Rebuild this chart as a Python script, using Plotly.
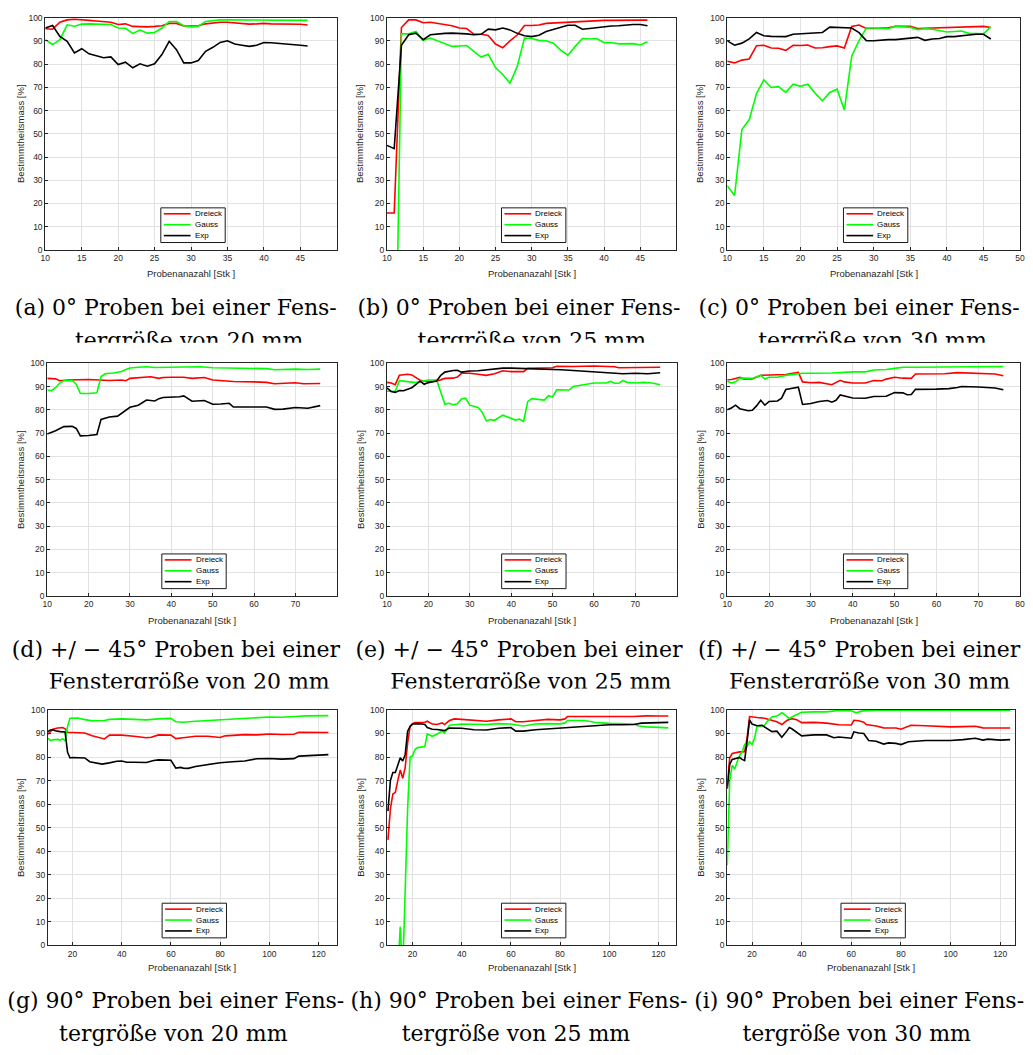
import plotly.graph_objects as go

# ---------------------------------------------------------------------------
# Bestimmtheitsmass [%] over Probenanzahl for three window functions
# (Dreieck, Gauss, Exp) at 0°, +/-45° and 90° samples, window 20/25/30 mm.
# ---------------------------------------------------------------------------

# Row 1: 0° samples, one value per sample count 10..46
ROW1_X = list(range(10, 47))

A_DREIECK = [95.2, 95.0, 98.0, 99.0, 99.3, 99.2, 98.8, 98.5, 98.2, 98.0,
             97.0, 97.3, 96.2, 96.0, 96.0, 96.2, 96.5, 97.5, 97.5, 96.4,
             96.3, 96.5, 97.3, 97.8, 98.0, 98.0, 97.8, 97.3, 97.2, 97.3,
             97.5, 97.3, 97.3, 97.3, 97.2, 97.1, 96.8]
A_GAUSS = [90.5, 88.4, 90.5, 96.9, 96.3, 97.2, 97.3, 97.2, 96.8, 97.0,
           95.5, 95.4, 93.2, 94.6, 93.3, 93.6, 95.5, 98.3, 98.3, 96.5,
           96.0, 96.3, 98.3, 98.8, 99.0, 99.0, 99.0, 99.0, 98.9, 98.9,
           98.8, 98.8, 98.8, 98.9, 98.9, 98.9, 98.8]
A_EXP = [95.5, 96.6, 91.9, 89.8, 84.8, 86.6, 84.4, 83.4, 82.7, 83.1,
         79.8, 80.8, 78.4, 80.1, 79.1, 80.1, 84.1, 89.8, 86.2, 80.5,
         80.5, 81.5, 85.5, 87.2, 89.3, 90.0, 88.6, 88.1, 87.6, 88.1,
         89.3, 89.2, 89.0, 88.6, 88.3, 88.1, 87.8]

B_DREIECK = [15.9, 15.9, 95.7, 99.0, 99.0, 97.8, 98.0, 97.6, 97.0, 96.5,
             95.5, 95.3, 92.9, 92.8, 92.3, 88.6, 87.0, 90.0, 92.5, 96.6,
             96.6, 96.8, 97.5, 97.7, 97.7, 97.8, 98.3, 98.5, 98.6, 98.8,
             98.8, 98.8, 98.9, 98.9, 98.9, 98.9, 98.9]
B_GAUSS = [-93.0, -93.0, 93.0, 93.0, 94.0, 90.2, 91.2, 90.0, 89.0, 87.6,
           87.8, 88.0, 85.5, 83.0, 84.2, 78.5, 75.5, 71.7, 79.0, 91.2,
           91.0, 90.2, 90.0, 89.0, 86.0, 83.8, 87.5, 91.0, 90.8, 91.0,
           89.2, 89.3, 88.7, 88.8, 88.8, 88.2, 89.6]
B_EXP = [45.0, 43.6, 88.1, 92.6, 93.3, 90.5, 92.6, 93.0, 93.2, 93.3,
         93.3, 93.0, 92.6, 92.8, 95.0, 94.7, 95.5, 94.7, 93.2, 92.2,
         91.8, 92.4, 94.0, 95.0, 96.0, 96.7, 96.7, 95.0, 95.3, 95.7,
         96.3, 96.4, 96.5, 96.8, 97.0, 97.0, 96.5]

C_DREIECK = [81.2, 80.5, 81.7, 82.2, 87.9, 88.1, 86.9, 86.8, 85.9, 88.1,
             88.0, 88.2, 86.9, 87.0, 87.5, 87.8, 86.9, 96.2, 96.8, 95.3,
             95.3, 95.5, 95.6, 96.2, 96.3, 96.2, 95.3, 95.4, 95.3, 95.3,
             95.6, 95.7, 95.7, 95.8, 96.0, 96.2, 95.7]
C_GAUSS = [27.6, 23.4, 51.8, 56.0, 67.3, 73.2, 69.9, 70.3, 67.8, 71.3,
           70.4, 71.3, 67.5, 64.2, 67.8, 69.2, 60.2, 83.4, 90.1, 95.5,
           95.5, 95.4, 95.2, 96.3, 96.2, 95.8, 94.8, 95.2, 95.0, 94.5,
           93.8, 94.0, 94.2, 93.2, 93.0, 93.0, 96.0]
C_EXP = [90.0, 88.1, 89.0, 90.8, 93.6, 92.2, 91.9, 92.0, 91.8, 92.8,
         93.0, 93.2, 93.2, 93.6, 95.9, 95.8, 95.7, 95.5, 93.5, 90.1,
         90.0, 90.3, 90.5, 90.5, 90.8, 91.3, 91.5, 90.2, 90.8, 91.0,
         91.8, 91.8, 92.0, 92.5, 92.8, 92.8, 90.8]

# Row 2: +/-45° samples
D_DREIECK_X = [10, 11, 12, 13, 15, 20, 25, 28, 29, 30, 33, 35, 37, 38, 40, 43,
               45, 48, 50, 55, 60, 63, 65, 70, 72, 76]
D_DREIECK = [93.5, 93.4, 93.3, 92.5, 92.8, 93.0, 92.6, 92.8, 92.5, 93.5, 93.8,
             94.2, 93.5, 93.9, 94.0, 94.0, 93.5, 93.9, 92.8, 92.2, 92.0, 91.8,
             91.2, 91.6, 91.2, 91.3]
D_GAUSS_X = [10, 11, 12, 13, 14, 16, 17, 18, 20, 22, 23, 24, 26, 28, 29, 30,
             32, 34, 36, 40, 45, 47, 50, 55, 60, 63, 65, 70, 73, 76]
D_GAUSS = [88.5, 88.2, 89.5, 91.5, 92.5, 92.6, 91.0, 87.0, 87.0, 87.3, 94.3,
           95.5, 95.8, 96.5, 97.3, 98.0, 98.3, 98.5, 98.2, 98.2, 98.3, 98.5,
           98.1, 97.9, 97.9, 97.7, 97.2, 97.5, 97.3, 97.5]
D_EXP_X = [10, 12, 14, 16, 17, 18, 20, 22, 23, 25, 27, 28, 30, 32, 34, 36, 37,
           38, 40, 42, 43, 45, 48, 50, 52, 54, 55, 60, 63, 65, 67, 70, 73, 76]
D_EXP = [69.6, 71.0, 72.8, 72.9, 72.0, 68.8, 69.0, 69.4, 75.9, 76.9, 77.3,
         78.7, 81.1, 82.0, 84.2, 83.8, 84.8, 85.3, 85.3, 85.6, 86.0, 83.7,
         84.0, 82.4, 82.5, 82.8, 81.2, 81.1, 81.2, 80.2, 80.3, 81.0, 80.7, 81.8]

E_DREIECK_X = [10, 11, 12, 13, 15, 16, 18, 20, 22, 24, 26, 27, 28, 30, 32, 34,
               36, 38, 40, 43, 44, 46, 50, 51, 55, 60, 65, 66, 70, 76]
E_DREIECK = [91.8, 91.5, 90.8, 94.9, 95.3, 95.0, 92.7, 92.2, 92.3, 93.5, 93.6,
             94.1, 95.7, 95.7, 95.3, 94.8, 95.5, 96.8, 96.4, 96.4, 97.8, 97.9,
             98.1, 98.7, 98.6, 98.8, 98.5, 98.1, 98.2, 98.3]
E_GAUSS_X = [10, 12, 13, 15, 17, 18, 20, 22, 24, 25, 26, 27, 28, 29, 30, 32, 33,
             34, 35, 36, 37, 38, 40, 41, 42, 43, 44, 45, 46, 48, 49, 50, 51, 54,
             55, 58, 60, 63, 64, 65, 66, 67, 68, 70, 72, 74, 76]
E_GAUSS = [88.0, 88.0, 92.5, 92.0, 91.7, 92.2, 92.8, 92.8, 82.4, 82.8, 82.2,
           82.6, 84.7, 85.0, 82.0, 81.0, 79.0, 75.3, 75.8, 75.5, 76.5, 77.7,
           76.4, 75.6, 76.0, 75.0, 83.5, 84.8, 84.6, 84.2, 86.1, 85.5, 88.6,
           88.5, 90.0, 90.8, 91.5, 91.5, 92.2, 91.4, 91.4, 92.6, 91.8, 91.5,
           91.8, 91.5, 90.8]
E_EXP_X = [10, 11, 12, 13, 14, 16, 18, 19, 20, 22, 23, 24, 26, 27, 28, 30, 32,
           35, 38, 40, 43, 45, 50, 52, 55, 60, 65, 67, 70, 73, 76]
E_EXP = [89.4, 87.9, 87.5, 88.3, 88.2, 89.5, 92.3, 91.0, 91.7, 92.4, 94.8,
         96.2, 96.9, 97.0, 96.2, 96.7, 96.8, 97.3, 97.9, 97.9, 97.8, 97.7,
         97.3, 97.2, 96.9, 96.4, 95.8, 95.5, 95.7, 95.5, 95.9]

F_DREIECK_X = [10, 11, 12, 13, 14, 16, 18, 20, 22, 24, 26, 27, 28, 30, 32, 33,
               35, 37, 38, 40, 43, 45, 47, 48, 50, 52, 54, 55, 60, 62, 65, 70,
               72, 74, 76]
F_DREIECK = [92.9, 93.0, 93.5, 94.0, 93.2, 93.3, 94.8, 95.0, 95.0, 95.2, 95.8,
             96.1, 92.0, 91.6, 91.8, 91.5, 90.8, 92.7, 92.0, 91.5, 91.5, 92.6,
             92.5, 93.2, 94.0, 93.6, 93.5, 95.4, 95.4, 95.5, 96.0, 95.8, 95.5,
             95.4, 94.6]
F_GAUSS_X = [10, 11, 12, 13, 14, 16, 18, 19, 20, 22, 24, 26, 28, 30, 35, 40,
             43, 45, 48, 50, 52, 55, 60, 65, 70, 76]
F_GAUSS = [92.3, 91.5, 92.0, 93.5, 93.6, 93.5, 94.9, 93.2, 94.0, 94.0, 94.8,
           95.3, 95.7, 95.7, 95.8, 96.3, 96.3, 97.1, 97.3, 97.8, 98.3, 98.3,
           98.4, 98.5, 98.6, 98.6]
F_EXP_X = [10, 11, 12, 13, 15, 16, 17, 18, 19, 20, 22, 23, 24, 26, 27, 28, 30,
           32, 34, 35, 36, 37, 38, 40, 43, 45, 48, 50, 52, 53, 54, 55, 60, 63,
           65, 66, 70, 72, 74, 76]
F_EXP = [80.0, 80.8, 82.0, 80.5, 79.6, 79.8, 81.7, 84.1, 82.0, 83.6, 83.8,
         85.0, 88.7, 89.3, 89.7, 82.3, 82.7, 83.6, 84.0, 83.3, 84.1, 86.4,
         86.0, 85.1, 85.0, 85.7, 85.8, 87.4, 87.3, 86.5, 86.6, 88.8, 88.9,
         89.1, 89.6, 90.0, 89.8, 89.5, 89.4, 88.6]

# Row 3: 90° samples
G_DREIECK_X = [10, 11, 12, 14, 16, 17, 18, 20, 25, 28, 30, 33, 35, 40, 45, 50,
               52, 55, 60, 62, 65, 70, 75, 80, 82, 85, 90, 95, 100, 105, 110,
               112, 115, 120, 124]
G_DREIECK = [89.7, 91.0, 91.8, 92.3, 92.5, 92.0, 90.5, 90.4, 90.2, 89.0, 88.4,
             87.7, 89.3, 89.3, 88.8, 88.2, 88.4, 89.4, 89.3, 87.8, 88.2, 88.8,
             88.8, 88.3, 89.0, 89.3, 89.5, 89.4, 89.8, 89.6, 89.7, 90.5, 90.4,
             90.4, 90.4]
G_GAUSS_X = [10, 11, 12, 14, 15, 16, 17, 18, 19, 22, 25, 28, 30, 33, 35, 40, 45,
             50, 55, 60, 62, 65, 70, 75, 80, 85, 90, 95, 100, 105, 110, 112,
             115, 120, 124]
G_GAUSS = [88.0, 87.0, 87.3, 87.5, 87.2, 87.8, 86.8, 93.0, 96.5, 96.6, 95.9,
           95.4, 95.4, 95.5, 96.0, 96.2, 96.0, 95.8, 96.2, 96.4, 95.0, 94.8,
           95.2, 95.5, 95.8, 96.2, 96.5, 96.7, 97.0, 96.9, 97.0, 97.3, 97.5,
           97.5, 97.6]
G_EXP_X = [10, 11, 12, 13, 15, 17, 18, 19, 20, 23, 25, 27, 30, 32, 35, 38, 40,
           42, 45, 50, 53, 55, 58, 60, 62, 64, 65, 67, 70, 75, 80, 85, 90, 95,
           100, 105, 110, 112, 115, 120, 124]
G_EXP = [90.8, 91.5, 91.6, 91.2, 90.8, 90.6, 82.0, 79.6, 79.8, 79.6, 79.6,
         78.0, 77.5, 77.0, 77.5, 78.2, 78.3, 77.8, 77.8, 77.7, 78.5, 78.8,
         78.7, 78.6, 75.3, 75.6, 75.3, 75.2, 76.0, 76.8, 77.6, 78.0, 78.3,
         79.3, 79.4, 79.1, 79.3, 80.4, 80.5, 80.8, 81.0]

H_DREIECK_X = [10, 11, 12, 13, 14, 15, 16, 17, 18, 19, 20, 21, 25, 26, 28, 30,
               32, 33, 35, 37, 40, 45, 50, 55, 60, 62, 65, 70, 75, 80, 82, 83,
               90, 100, 110, 115, 120, 124]
H_DREIECK = [44.8, 58.0, 64.3, 65.0, 70.0, 74.5, 71.0, 75.5, 86.0, 93.0, 94.2,
             94.6, 94.8, 95.2, 94.0, 93.8, 94.5, 93.8, 95.5, 96.2, 96.0, 95.5,
             95.2, 95.8, 96.2, 95.0, 95.0, 95.5, 96.0, 95.8, 96.2, 97.2, 97.1,
             97.2, 97.2, 97.5, 97.4, 97.4]
H_GAUSS_X = [10, 13, 14, 15, 16, 17, 18, 19, 20, 21, 22, 24, 25, 26, 28, 30, 32,
             33, 34, 35, 40, 45, 50, 55, 60, 65, 70, 75, 80, 82, 83, 90, 95,
             100, 105, 110, 112, 115, 120, 124]
H_GAUSS = [-20.0, -20.0, -12.0, 8.0, -12.0, 25.0, 58.0, 80.0, 80.5, 83.2, 84.0,
           84.3, 84.5, 89.8, 88.8, 89.8, 91.0, 90.2, 92.0, 93.5, 94.0, 94.0,
           93.8, 94.2, 94.0, 93.2, 94.0, 94.2, 94.1, 94.5, 95.5, 95.5, 94.6,
           94.3, 94.2, 94.0, 93.2, 92.8, 92.6, 92.4]
H_EXP_X = [10, 11, 12, 13, 14, 15, 16, 17, 18, 19, 20, 22, 24, 25, 26, 28, 30,
           33, 35, 40, 45, 50, 55, 60, 62, 65, 70, 75, 80, 85, 90, 95, 100,
           105, 110, 113, 115, 120, 124]
H_EXP = [57.0, 70.0, 73.4, 73.4, 76.5, 79.7, 78.3, 81.0, 91.0, 93.0, 94.0, 94.2,
         94.0, 93.8, 92.5, 91.8, 91.7, 91.2, 92.3, 92.2, 91.6, 91.5, 92.2, 92.5,
         91.0, 91.0, 91.6, 92.0, 92.2, 92.8, 93.2, 93.5, 93.7, 93.7, 93.8, 94.4,
         94.5, 94.6, 94.7]

I_DREIECK_X = [10, 11, 12, 13, 15, 17, 18, 19, 20, 22, 25, 28, 30, 32, 34, 36,
               38, 40, 45, 50, 53, 55, 60, 61, 63, 65, 66, 70, 73, 75, 78, 80,
               82, 84, 90, 95, 100, 105, 110, 113, 115, 120, 124]
I_DREIECK = [67.7, 79.7, 81.5, 81.8, 82.2, 82.3, 88.0, 97.2, 97.0, 96.8, 96.5,
             95.5, 95.0, 93.8, 95.5, 96.3, 95.8, 94.6, 94.7, 94.4, 93.8, 93.7,
             93.6, 95.6, 95.4, 94.8, 93.8, 93.2, 92.4, 92.4, 92.3, 91.8, 92.7,
             93.5, 93.3, 92.9, 92.8, 92.9, 93.1, 92.4, 92.4, 92.3, 92.3]
I_GAUSS_X = [10, 11, 12, 13, 14, 15, 16, 17, 18, 19, 20, 21, 22, 25, 26, 28, 30,
             32, 33, 35, 37, 40, 45, 50, 55, 60, 62, 64, 66, 70, 80, 90, 100,
             110, 124]
I_GAUSS = [34.0, 70.0, 76.5, 74.8, 78.0, 80.8, 82.0, 85.3, 84.5, 86.5, 85.3,
           88.0, 93.0, 93.4, 95.0, 97.0, 97.4, 98.8, 98.1, 96.4, 97.5, 99.0,
           99.2, 99.2, 99.8, 99.7, 98.8, 99.5, 99.7, 99.9, 99.9, 99.9, 99.9,
           99.9, 99.9]
I_EXP_X = [10, 11, 12, 13, 15, 16, 17, 18, 19, 20, 22, 24, 26, 28, 30, 32, 34,
           35, 36, 38, 40, 45, 50, 53, 55, 60, 61, 63, 65, 66, 67, 70, 73, 75,
           78, 80, 83, 90, 100, 105, 110, 113, 115, 120, 124]
I_EXP = [66.5, 76.9, 79.0, 79.3, 79.8, 79.0, 78.5, 86.7, 95.8, 94.0, 93.3, 93.5,
         92.0, 90.8, 91.0, 88.4, 91.0, 92.5, 92.0, 90.5, 89.0, 89.4, 89.4, 88.2,
         88.5, 88.0, 90.7, 90.2, 90.0, 88.5, 87.0, 86.7, 85.5, 86.0, 85.8, 85.3,
         86.5, 87.0, 87.0, 87.4, 88.0, 87.2, 87.6, 87.2, 87.4]

SERIES_NAMES = ["Dreieck", "Gauss", "Exp"]
SERIES_COLORS = ["#ff0000", "#00ff00", "#000000"]

Y_TICKS = list(range(0, 101, 10))
ROW1_TICKS = list(range(10, 51, 5))
ROW2_TICKS = list(range(10, 81, 10))
ROW3_TICKS = list(range(20, 121, 20))

CAPTIONS = [
    ("(a) 0° Proben bei einer Fens-", "tergröße von 20 mm"),
    ("(b) 0° Proben bei einer Fens-", "tergröße von 25 mm"),
    ("(c) 0° Proben bei einer Fens-", "tergröße von 30 mm"),
    ("(d) +/ − 45° Proben bei einer", "Fenstergröße von 20 mm"),
    ("(e) +/ − 45° Proben bei einer", "Fenstergröße von 25 mm"),
    ("(f) +/ − 45° Proben bei einer", "Fenstergröße von 30 mm"),
    ("(g) 90° Proben bei einer Fens-", "tergröße von 20 mm"),
    ("(h) 90° Proben bei einer Fens-", "tergröße von 25 mm"),
    ("(i) 90° Proben bei einer Fens-", "tergröße von 30 mm"),
]

X_TITLE = "Probenanazahl [Stk ]"
Y_TITLE = "Bestimmtheitsmass [%]"

# ---------------------------------------------------------------------------
W, H = 1033, 1055
AX_COLOR = "#262626"
GRID_COLOR = "#e2e2e2"
SANS = "Liberation Sans"
SERIF = "DejaVu Serif"


def fx(px):
    return px / W


def fy(py):
    return 1 - py / H


# plot-area boxes in pixels: left, right, top, bottom
panels = [
    dict(box=(40.7, 335.0, 12.7, 247.3), xr=[10, 50], ticks=ROW1_TICKS, hide_last=True,
         data=[(ROW1_X, A_DREIECK), (ROW1_X, A_GAUSS), (ROW1_X, A_EXP)]),
    dict(box=(385.7, 678.0, 12.7, 247.3), xr=[10, 50], ticks=ROW1_TICKS, hide_last=True,
         data=[(ROW1_X, B_DREIECK), (ROW1_X, B_GAUSS), (ROW1_X, B_EXP)]),
    dict(box=(729.3, 1025.0, 12.7, 247.3), xr=[10, 50], ticks=ROW1_TICKS, hide_last=False,
         data=[(ROW1_X, C_DREIECK), (ROW1_X, C_GAUSS), (ROW1_X, C_EXP)]),
    dict(box=(42.7, 335.0, 361.7, 596.7), xr=[10, 80], ticks=ROW2_TICKS, hide_last=True,
         data=[(D_DREIECK_X, D_DREIECK), (D_GAUSS_X, D_GAUSS), (D_EXP_X, D_EXP)]),
    dict(box=(385.7, 678.3, 361.7, 596.7), xr=[10, 80], ticks=ROW2_TICKS, hide_last=True,
         data=[(E_DREIECK_X, E_DREIECK), (E_GAUSS_X, E_GAUSS), (E_EXP_X, E_EXP)]),
    dict(box=(729.3, 1025.0, 361.7, 596.7), xr=[10, 80], ticks=ROW2_TICKS, hide_last=False,
         data=[(F_DREIECK_X, F_DREIECK), (F_GAUSS_X, F_GAUSS), (F_EXP_X, F_EXP)]),
    dict(box=(43.3, 335.0, 711.7, 949.3), xr=[10, 127.4], ticks=ROW3_TICKS, hide_last=False,
         data=[(G_DREIECK_X, G_DREIECK), (G_GAUSS_X, G_GAUSS), (G_EXP_X, G_EXP)]),
    dict(box=(385.7, 678.0, 711.7, 949.3), xr=[9.6, 127.3], ticks=ROW3_TICKS, hide_last=False,
         data=[(H_DREIECK_X, H_DREIECK), (H_GAUSS_X, H_GAUSS), (H_EXP_X, H_EXP)]),
    dict(box=(729.3, 1020.0, 711.7, 949.3), xr=[10, 126], ticks=ROW3_TICKS, hide_last=False,
         data=[(I_DREIECK_X, I_DREIECK), (I_GAUSS_X, I_GAUSS), (I_EXP_X, I_EXP)]),
]

# caption placement per row: (line1 anchor y, line2 anchor y, clip top, clip bottom)
ROW_CAPTION = [
    (307.3, 340.3, 282.0, 341.0),
    (652.8, 685.5, 628.0, 690.0),
    (1007.3, 1040.3, 985.0, 1055.0),
]
LINE1_CX = [172.5, 519.0, 862.5]
LINE2_CX = [[186.0, 532.0, 876.0], [186.0, 531.0, 873.0], [170.0, 516.0, 860.0]]
X_TITLE_Y = [271.0, 621.0, 972.0]
Y_TITLE_X = [15.5, 358.7, 702.0]

fig = go.Figure()
layout = {}
shapes = []
annotations = []

for n, p in enumerate(panels, start=1):
    L, R, T, B = p["box"]
    xname = "xaxis" if n == 1 else f"xaxis{n}"
    yname = "yaxis" if n == 1 else f"yaxis{n}"
    xref = "x" if n == 1 else f"x{n}"
    yref = "y" if n == 1 else f"y{n}"
    ticktext = [str(t) for t in p["ticks"]]
    if p["hide_last"]:
        ticktext[-1] = ""
    common = dict(showgrid=True, gridcolor=GRID_COLOR, gridwidth=1,
                  showline=True, linecolor=AX_COLOR, linewidth=1, mirror=True,
                  ticks="inside", ticklen=3, tickcolor=AX_COLOR, zeroline=False,
                  tickfont=dict(family=SANS, size=8.5, color=AX_COLOR),
                  fixedrange=True)
    layout[xname] = dict(domain=[fx(L), fx(R)], anchor=yref, range=p["xr"],
                         tickmode="array", tickvals=p["ticks"], ticktext=ticktext,
                         **common)
    layout[yname] = dict(domain=[fy(B), fy(T)], anchor=xref, range=[0, 100],
                         tickmode="array", tickvals=Y_TICKS, **common)

    for (xs, ys), name, color in zip(p["data"], SERIES_NAMES, SERIES_COLORS):
        fig.add_trace(go.Scatter(x=xs, y=ys, mode="lines", name=name,
                                 line=dict(color=color, width=1.6),
                                 xaxis=xref, yaxis=yref, showlegend=False))

    row, col = (n - 1) // 3, (n - 1) % 3

    # axis titles
    annotations.append(dict(text=X_TITLE, x=fx((L + R) / 2), y=fy(X_TITLE_Y[row]),
                            xref="paper", yref="paper", xanchor="center",
                            yanchor="middle", showarrow=False,
                            font=dict(family=SANS, size=9.5, color=AX_COLOR)))
    annotations.append(dict(text=Y_TITLE, x=fx(Y_TITLE_X[col]), y=fy((T + B) / 2),
                            xref="paper", yref="paper", xanchor="center",
                            yanchor="middle", textangle=-90, showarrow=False,
                            font=dict(family=SANS, size=9.5, color=AX_COLOR)))

    # legend box (south, inside the axes)
    cx = (L + R) / 2 + 2
    lx0, lx1 = cx - 32.5, cx + 32.5
    ly1 = B - 7.5
    ly0 = ly1 - 35
    shapes.append(dict(type="rect", xref="paper", yref="paper",
                       x0=fx(lx0), x1=fx(lx1), y0=fy(ly1), y1=fy(ly0),
                       fillcolor="white", line=dict(color="#1a1a1a", width=1),
                       layer="above"))
    for k, (name, color) in enumerate(zip(SERIES_NAMES, SERIES_COLORS)):
        yy = ly0 + 6 + 11 * k
        shapes.append(dict(type="line", xref="paper", yref="paper",
                           x0=fx(lx0 + 3), x1=fx(lx0 + 30), y0=fy(yy), y1=fy(yy),
                           line=dict(color=color, width=1.6), layer="above"))
        annotations.append(dict(text=name, x=fx(lx0 + 32), y=fy(yy),
                                xref="paper", yref="paper", xanchor="left",
                                yanchor="middle", showarrow=False,
                                font=dict(family=SANS, size=8, color="#000000")))

# captions, drawn as text in clipping caption axes (one per row)
for row in range(3):
    n = 10 + row
    a1, a2, top, bottom = ROW_CAPTION[row]
    layout[f"xaxis{n}"] = dict(domain=[0, 1], range=[0, W], visible=False,
                               anchor=f"y{n}", fixedrange=True)
    layout[f"yaxis{n}"] = dict(domain=[fy(bottom), fy(top)], range=[bottom, top],
                               visible=False, anchor=f"x{n}", fixedrange=True)
    xs, ys, texts = [], [], []
    for col in range(3):
        l1, l2 = CAPTIONS[row * 3 + col]
        xs += [LINE1_CX[col], LINE2_CX[row][col]]
        ys += [a1, a2]
        texts += [l1, l2]
    fig.add_trace(go.Scatter(x=xs, y=ys, text=texts, mode="text",
                             textposition="middle center", cliponaxis=True,
                             textfont=dict(family=SERIF, size=22, color="#000000"),
                             xaxis=f"x{n}", yaxis=f"y{n}", showlegend=False,
                             hoverinfo="skip"))

fig.update_layout(
    width=W, height=H, autosize=False,
    margin=dict(l=0, r=0, t=0, b=0, pad=0),
    paper_bgcolor="white", plot_bgcolor="white",
    shapes=shapes, annotations=annotations, showlegend=False,
    **layout,
)

fig.write_html("out.html")
